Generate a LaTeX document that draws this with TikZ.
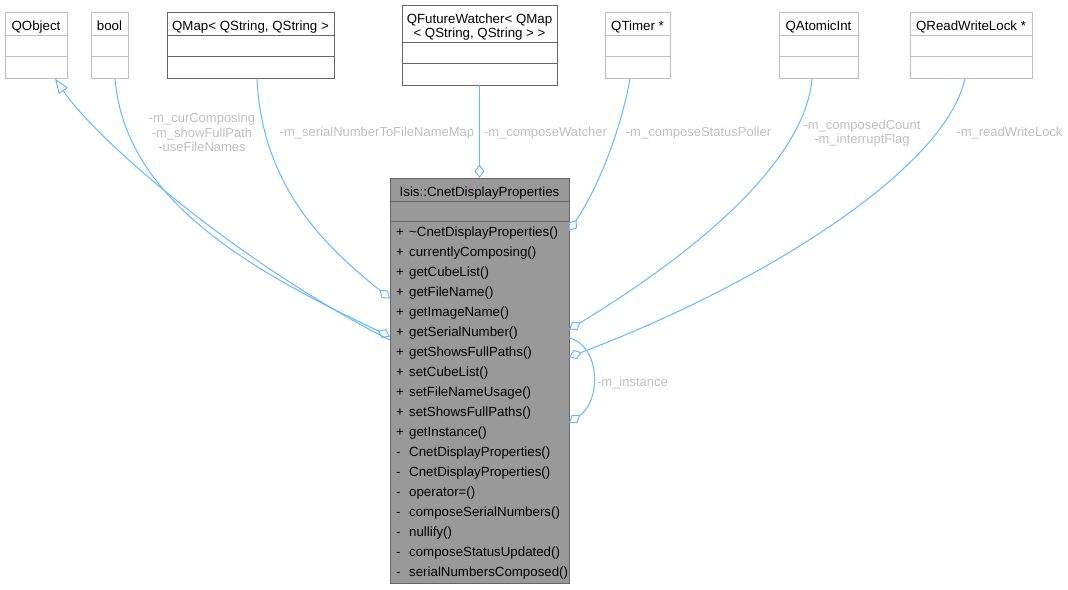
\documentclass[tikz,border=0pt]{standalone}
\usepackage{fontspec}
\setmainfont{Liberation Sans}
\usetikzlibrary{arrows.meta, positioning}
\definecolor{edgeBlue}{HTML}{63B8FF}
\definecolor{labelGrey}{HTML}{BEBEBE}
\definecolor{borderLight}{HTML}{BFBFBF}
\definecolor{borderDark}{HTML}{666666}
\definecolor{classFill}{HTML}{999999}
\newcommand{\visib}[1]{\makebox[13pt][l]{#1}}

\begin{document}
\begin{tikzpicture}[
    x=1pt, y=-1pt,
    hdr/.style={rectangle, draw=borderLight, fill=white, line width=1pt, outer sep=0pt,
                minimum width=#1, minimum height=22.5pt, inner sep=0pt,
                font=\fontsize{13.3}{14.4}\selectfont, text height=12.5pt, text depth=0pt},
    cell/.style={rectangle, draw=borderLight, fill=white, line width=1pt, outer sep=0pt,
                 minimum width=#1, minimum height=21.75pt, inner sep=0pt},
    dark/.style={draw=borderDark},
    clsbox/.style={rectangle, draw=borderDark, fill=classFill, line width=1pt, outer sep=0pt,
                   minimum width=179pt, inner sep=0pt},
    methods/.style={anchor=north west, align=left, inner sep=0pt,
                    font=\fontsize{13.3}{20}\selectfont},
    lbl/.style={text=labelGrey, font=\fontsize{13}{14.6}\selectfont, inner sep=0pt,
                align=center, anchor=base},
    member/.style={draw=edgeBlue, line width=1pt, -{Diamond[open, length=13.5pt, width=10pt]}},
    inherit/.style={draw=edgeBlue, line width=1pt, {Triangle[open, length=15pt, width=11pt]}-},
]
\useasboundingbox (0,0) rectangle (1068,589);

% member types along the top
\node[hdr=62pt] (qobject) at (36,23.75) {QObject};
\node[cell=62pt, below=0pt of qobject] (qobjectA) {};
\node[cell=62pt, below=0pt of qobjectA] (qobjectB) {};

\node[hdr=37pt] (bool) at (109.5,23.75) {bool};
\node[cell=37pt, below=0pt of bool] (boolA) {};
\node[cell=37pt, below=0pt of boolA] (boolB) {};

\node[hdr=167pt, dark] (qmap) at (250.5,23.75) {QMap< QString, QString >};
\node[cell=167pt, dark, below=0pt of qmap] (qmapA) {};
\node[cell=167pt, dark, below=0pt of qmapA] (qmapB) {};

\node[hdr=155pt, dark, minimum height=37pt, align=center, text height=28.4pt] (qfw) at (479.5,23.5)
    {QFutureWatcher< QMap\\< QString, QString > >};
\node[cell=155pt, dark, minimum height=21.5pt, below=0pt of qfw] (qfwA) {};
\node[cell=155pt, dark, minimum height=21.5pt, below=0pt of qfwA] (qfwB) {};

\node[hdr=65pt] (qtimer) at (637.5,23.75) {QTimer *};
\node[cell=65pt, below=0pt of qtimer] (qtimerA) {};
\node[cell=65pt, below=0pt of qtimerA] (qtimerB) {};

\node[hdr=79pt] (qatomic) at (818.5,23.75) {QAtomicInt};
\node[cell=79pt, below=0pt of qatomic] (qatomicA) {};
\node[cell=79pt, below=0pt of qatomicA] (qatomicB) {};

\node[hdr=122pt] (qrwl) at (971,23.75) {QReadWriteLock *};
\node[cell=122pt, below=0pt of qrwl] (qrwlA) {};
\node[cell=122pt, below=0pt of qrwlA] (qrwlB) {};

% the class itself
\node[clsbox, minimum height=23pt, font=\fontsize{13.3}{14.4}\selectfont,
      text height=13pt, text depth=0pt] (cdp) at (479.5,189.5) {Isis::CnetDisplayProperties};
\node[clsbox, minimum height=20pt, below=0pt of cdp] (cdpA) {};
\node[clsbox, minimum height=362pt, below=0pt of cdpA] (cdpB) {};
\node[methods] (cdpM) at ([xshift=6pt, yshift=-5.3pt]cdpB.north west) {%
    \visib{+}\textasciitilde CnetDisplayProperties()\\
    \visib{+}currentlyComposing()\\
    \visib{+}getCubeList()\\
    \visib{+}getFileName()\\
    \visib{+}getImageName()\\
    \visib{+}getSerialNumber()\\
    \visib{+}getShowsFullPaths()\\
    \visib{+}setCubeList()\\
    \visib{+}setFileNameUsage()\\
    \visib{+}setShowsFullPaths()\\
    \visib{+}getInstance()\\
    \visib{-}CnetDisplayProperties()\\
    \visib{-}CnetDisplayProperties()\\
    \visib{-}operator=()\\
    \visib{-}composeSerialNumbers()\\
    \visib{-}nullify()\\
    \visib{-}composeStatusUpdated()\\
    \visib{-}serialNumbersComposed()};

% connectors
\draw[inherit] ([xshift=19pt]qobjectB.south) .. controls (100,145) and (250,270) .. ([yshift=-119pt]cdpB.north west);
\draw[member] ([xshift=5.5pt]boolB.south) .. controls (125,200) and (250,270) .. ([yshift=-115.5pt]cdpB.north west);
\draw[member] ([xshift=6.5pt]qmapB.south) .. controls (262,190) and (330,250) .. ([yshift=-77.5pt]cdpB.north west);
\draw[member] (qfwB.south) -- (cdp.north);
\draw[member] ([xshift=-7.5pt]qtimerB.south) .. controls (622,125) and (600,185) .. ([yshift=-10pt]cdpB.north east);
\draw[member] ([xshift=-6.5pt]qatomicB.south) .. controls (805,160) and (700,250) .. ([yshift=-108.5pt]cdpB.north east);
\draw[member] ([xshift=-6pt]qrwlB.south) .. controls (945,170) and (760,285) .. ([yshift=-136pt]cdpB.north east);
\draw[member] ([yshift=-117pt]cdpB.north east) .. controls (600,345) and (602,400) .. ([yshift=-202pt]cdpB.north east);

% edge labels
\node[lbl] (lbool) at (202,151.7) {-m\_curComposing\\-m\_showFullPath\\-useFileNames};
\node[lbl] (lqmap) at (377,136.7) {-m\_serialNumberToFileNameMap};
\node[lbl] (lqfw) at (545.5,136.7) {-m\_composeWatcher};
\node[lbl] (lqtimer) at (698.5,136.7) {-m\_composeStatusPoller};
\node[lbl] (lqatomic) at (862,143.7) {-m\_composedCount\\-m\_interruptFlag};
\node[lbl] (lqrwl) at (1009.5,136.7) {-m\_readWriteLock};
\node[lbl] (linst) at (632.5,386) {-m\_instance};

\end{tikzpicture}
\end{document}
